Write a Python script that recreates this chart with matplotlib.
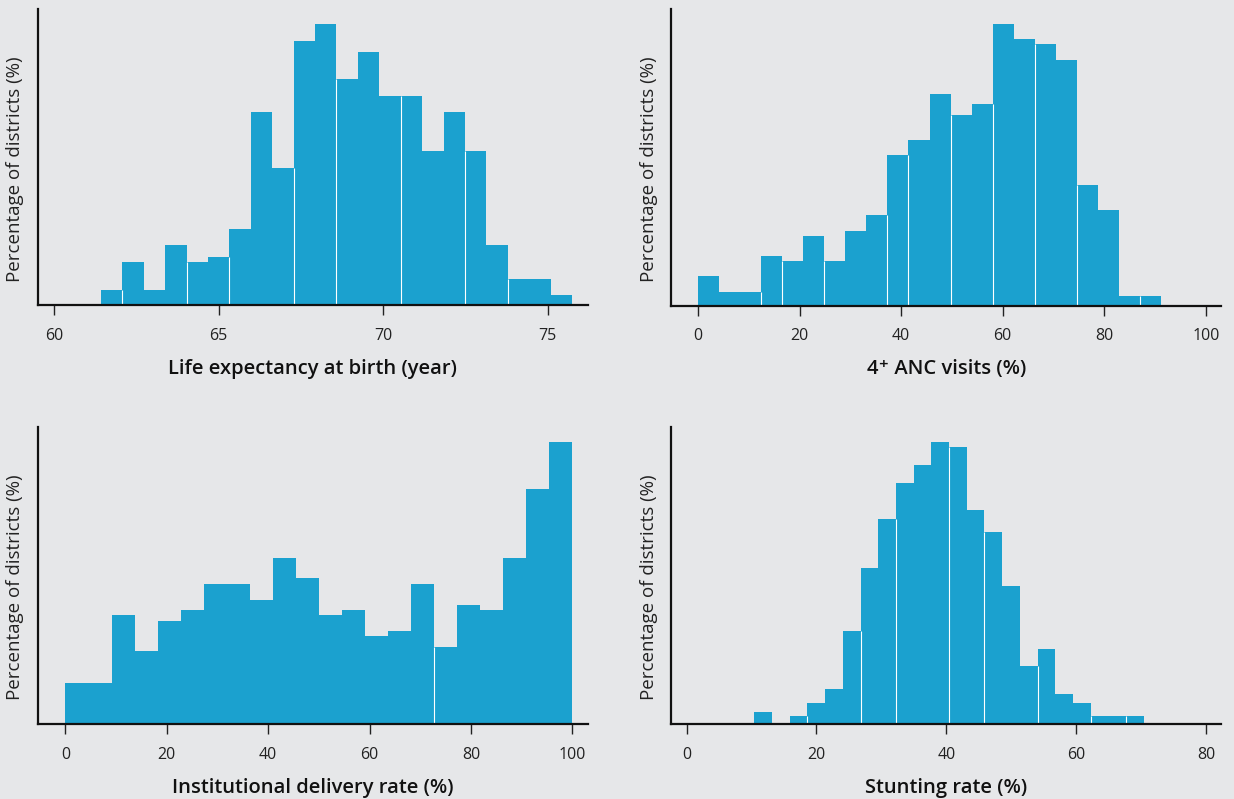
import numpy as np
import matplotlib
matplotlib.use("Agg")
import matplotlib.pyplot as plt

plt.rcParams['font.family'] = ['Open Sans', 'DejaVu Sans']

BG = '#e6e7e9'
BAR = '#1ba1cf'

# ---- Data (percentage of districts per bin) ----
life_start, life_end = 61.43, 75.74
life_pct = [0.57, 1.60, 0.57, 2.23, 1.60, 1.79, 2.82, 7.15, 5.08, 9.78, 10.41,
            8.38, 9.37, 7.75, 7.75, 5.71, 7.15, 5.71, 2.23, 0.97, 0.97, 0.38]
life_ticks = [60, 65, 70, 75]

anc_start, anc_end = 0.0, 91.2
anc_pct = [1.12, 0.52, 0.52, 1.88, 1.69, 2.64, 1.69, 2.82, 3.43, 5.70, 6.27,
           8.01, 7.21, 7.63, 10.66, 10.09, 9.90, 9.29, 4.56, 3.62, 0.38, 0.38]
anc_ticks = [0, 20, 40, 60, 80, 100]

inst_start, inst_end = 0.0, 100.0
inst_pct = [1.52, 1.52, 3.99, 2.67, 3.77, 4.17, 5.12, 5.12, 4.53, 6.07, 5.34,
            3.99, 4.17, 3.22, 3.40, 5.12, 2.82, 4.35, 4.17, 6.07, 8.58, 10.30]
inst_ticks = [0, 20, 40, 60, 80, 100]

stunt_start, stunt_end = 10.43, 70.39
stunt_pct = [0.53, 0.0, 0.35, 0.91, 1.50, 3.97, 6.66, 8.74, 10.28, 11.04, 12.02,
             11.81, 9.13, 8.19, 5.89, 2.48, 3.21, 1.29, 0.91, 0.35, 0.35, 0.35]
stunt_ticks = [0, 20, 40, 60, 80]

xlabels = ["Life expectancy at birth (year)", "4\u207a ANC visits (%)",
           "Institutional delivery rate (%)", "Stunting rate (%)"]

# rendering seams (white hairlines) seen at some bin edges, by edge index
seams = [[1, 4, 6, 9, 11, 14, 17, 19],
         [3, 4, 6, 9, 10, 12, 14, 16, 18, 21],
         [16],
         [3, 6, 8, 11, 13, 16, 19, 21]]

panels = [
    (life_start, life_end, life_pct, life_ticks, (59.5, 76.23), 10.95),
    (anc_start, anc_end, anc_pct, anc_ticks, (-5.24, 103.0), 11.21),
    (inst_start, inst_end, inst_pct, inst_ticks, (-5.51, 103.1), 10.86),
    (stunt_start, stunt_end, stunt_pct, stunt_ticks, (-2.35, 82.3), 12.67),
]

W, H = 1234, 799
fig = plt.figure(figsize=(W / 100, H / 100), dpi=100, facecolor=BG)

# axes boxes in pixels: left, top, right, bottom
boxes = [(37.5, 9.3, 588.1, 305.3),
         (671.3, 9.3, 1221.1, 305.7),
         (37.5, 426.7, 588.1, 724.3),
         (671.3, 426.7, 1221.1, 724.3)]
ylab_y = [0.46, 0.46, 0.462, 0.462]

for i, ((s, e, pct, ticks, xlim, ytop), (l, t, r, b)) in enumerate(zip(panels, boxes)):
    ax = fig.add_axes([l / W, 1 - b / H, (r - l) / W, (b - t) / H])
    ax.set_facecolor(BG)
    edges = np.linspace(s, e, len(pct) + 1)
    ax.bar(edges[:-1], pct, width=np.diff(edges), align='edge', color=BAR,
           edgecolor='none', linewidth=0, zorder=2)
    for k in seams[i]:
        hh = min(pct[k - 1], pct[k])
        ax.plot([edges[k], edges[k]], [0, hh], color='white', lw=0.8, zorder=3,
                solid_capstyle='butt')
    ax.set_xlim(*xlim)
    ax.set_ylim(0, ytop)
    ax.set_yticks([])
    ax.set_xticks(ticks)
    ax.set_xticklabels([str(v) for v in ticks], fontsize=11.5, color='#222222')
    ax.tick_params(axis='x', length=7, width=1.0, color='#222222', pad=9)
    for sp in ['top', 'right']:
        ax.spines[sp].set_visible(False)
    for sp in ['left', 'bottom']:
        ax.spines[sp].set_linewidth(1.6)
        ax.spines[sp].set_color('#111111')
        ax.spines[sp].set_zorder(4)
    ax.set_xlabel(xlabels[i], fontsize=14.5, fontweight='semibold', color='#111111',
                  labelpad=11)
    ax.set_ylabel("Percentage of districts (%)", fontsize=13.5, color='#222222')
    ax.yaxis.set_label_coords(-0.025, ylab_y[i])

fig.savefig("out.png", dpi=100, facecolor=BG)
